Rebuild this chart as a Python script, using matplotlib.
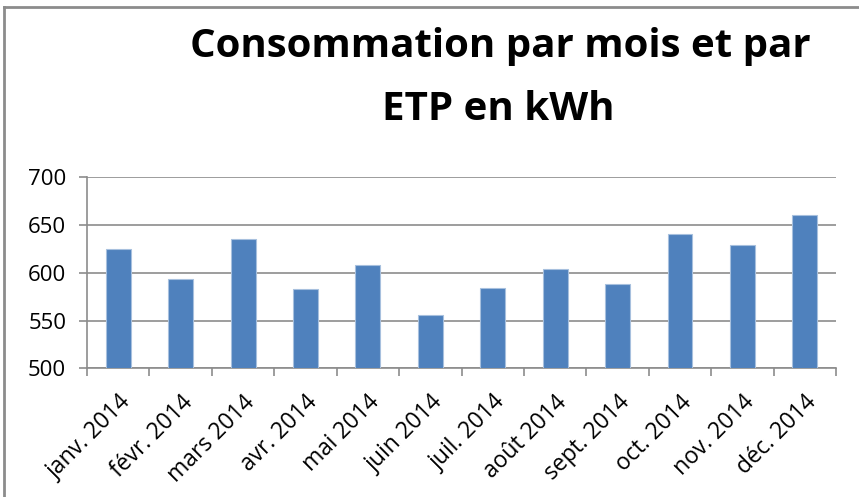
import matplotlib
matplotlib.use("Agg")
from matplotlib import pyplot as plt
from matplotlib.lines import Line2D
import numpy as np

months = ["janv. 2014", "févr. 2014", "mars 2014", "avr. 2014", "mai 2014",
          "juin 2014", "juil. 2014", "août 2014", "sept. 2014", "oct. 2014",
          "nov. 2014", "déc. 2014"]
kwh = [625, 594, 635, 583, 608, 556, 584, 604, 588, 641, 629, 661]
yticks = [500, 550, 600, 650, 700]

plt.rcParams["font.family"] = ["Open Sans", "DejaVu Sans"]

fig = plt.figure(figsize=(8.59, 4.97), dpi=100)
ax = fig.add_axes([0.1013, 0.259, 0.872, 0.3843])

x = np.arange(len(months))
ax.bar(x, kwh, width=0.4, color="#4F81BD", edgecolor="#A7C0DE", linewidth=0.8, zorder=3)

ax.set_ylim(500, 700)
ax.set_xlim(-0.5, len(months) - 0.5)
ax.set_yticks(yticks)
ax.set_yticklabels([str(v) for v in yticks], fontsize=16)
ax.yaxis.grid(True, color="#8C8C8C", linewidth=1.2, zorder=0)
ax.tick_params(axis="y", length=6, color="#8C8C8C", width=1.2, pad=9)

# ticks between categories, labels at centres
ax.set_xticks(np.arange(-0.5, len(months), 1.0))
ax.set_xticklabels([])
ax.set_xticks(x, minor=True)
ax.set_xticklabels(months, minor=True, rotation=45, ha="right", va="top",
                   rotation_mode="anchor", fontsize=16.5)
ax.tick_params(axis="x", which="major", length=6, color="#8C8C8C", width=1.2)
ax.tick_params(axis="x", which="minor", length=0, pad=16)

for s in ["top", "right"]:
    ax.spines[s].set_visible(False)
for s in ["left", "bottom"]:
    ax.spines[s].set_color("#8C8C8C")
    ax.spines[s].set_linewidth(1.2)

fig.text(0.582, 0.885, "Consommation par mois et par", ha="center", va="baseline",
         fontsize=29, fontweight="bold")
fig.text(0.58, 0.759, "ETP en kWh", ha="center", va="baseline",
         fontsize=29, fontweight="bold")

# chart border (only top and left edges are visible in the crop)
fig.add_artist(Line2D([0.005, 1.0], [0.986, 0.986], transform=fig.transFigure,
                      color="#8C8C8C", linewidth=2))
fig.add_artist(Line2D([0.005, 0.005], [0.0, 0.986], transform=fig.transFigure,
                      color="#8C8C8C", linewidth=2))

fig.savefig("out.png", dpi=100)
